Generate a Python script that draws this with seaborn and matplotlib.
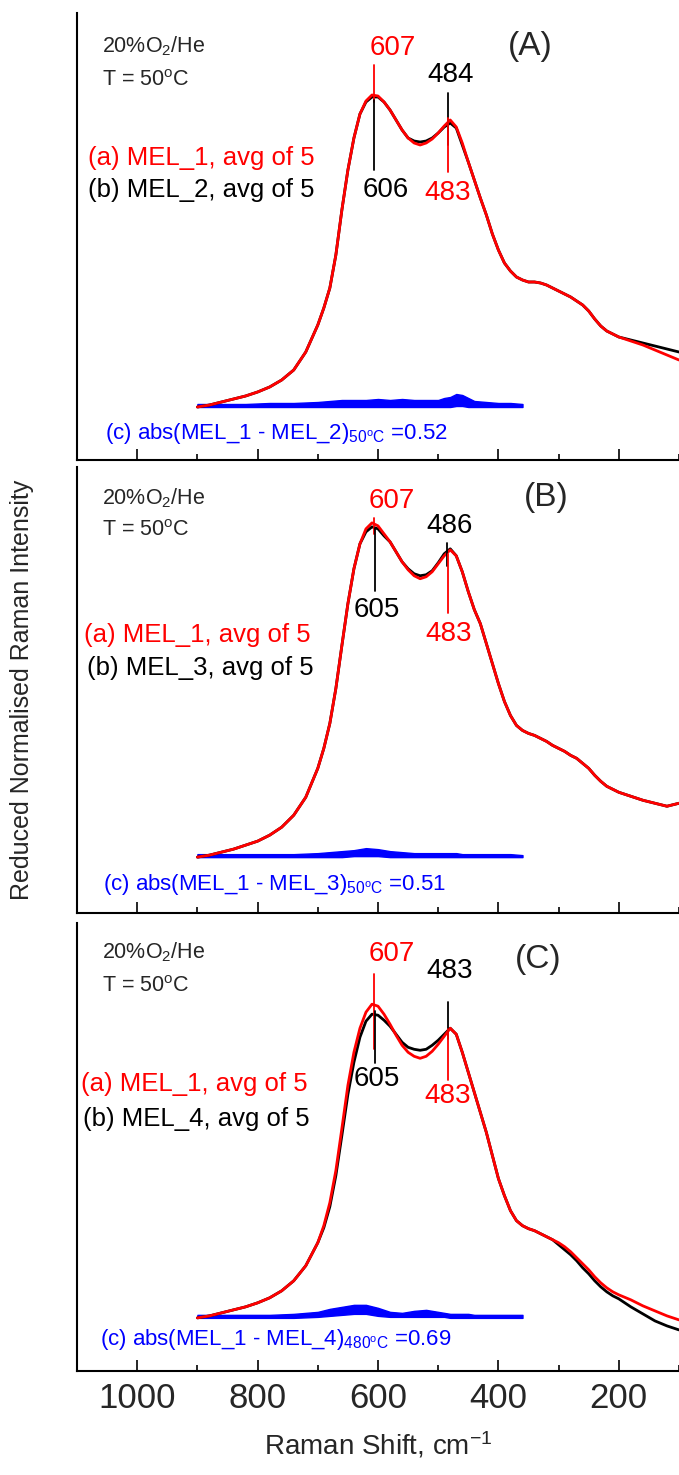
import matplotlib
matplotlib.use("Agg")
import matplotlib.pyplot as plt
import seaborn as sns

sns.set_style("white")
plt.rcParams["font.family"] = ["Liberation Sans", "DejaVu Sans"]
plt.rcParams["mathtext.fontset"] = "custom"
plt.rcParams["mathtext.rm"] = "Liberation Sans"
plt.rcParams["mathtext.it"] = "Liberation Sans:italic"
plt.rcParams["mathtext.bf"] = "Liberation Sans:bold"

# ---------------- data ----------------
wavenumber = [900, 880, 860, 840, 820, 800, 780, 760, 740, 720, 700,
              690, 680, 670, 660, 650, 640, 630, 620, 610, 600,
              590, 580, 570, 560, 550, 540, 530, 520, 510, 500,
              490, 480, 470, 460, 450, 440, 430, 420, 410, 400,
              390, 380, 370, 360, 350, 340, 330, 320, 310, 300,
              290, 280, 270, 260, 250, 240, 230, 220, 210, 200,
              180, 160, 140, 120, 100]

# (A) MEL_1 vs MEL_2
mel1_a = [0.53, 0.55, 0.58, 0.61, 0.64, 0.68, 0.73, 0.80, 0.90, 1.08, 1.35,
          1.52, 1.72, 2.05, 2.50, 2.90, 3.22, 3.46, 3.59, 3.65, 3.64,
          3.58, 3.50, 3.40, 3.30, 3.22, 3.17, 3.15, 3.17, 3.21, 3.27,
          3.34, 3.40, 3.33, 3.17, 2.98, 2.80, 2.62, 2.45, 2.26, 2.10,
          1.97, 1.89, 1.83, 1.80, 1.78, 1.78, 1.77, 1.75, 1.72, 1.69,
          1.66, 1.63, 1.59, 1.55, 1.49, 1.41, 1.34, 1.29, 1.26, 1.23,
          1.19, 1.15, 1.10, 1.05, 1.00]
mel2_a = [0.53, 0.55, 0.58, 0.61, 0.64, 0.68, 0.73, 0.80, 0.90, 1.08, 1.35,
          1.52, 1.72, 2.05, 2.50, 2.90, 3.22, 3.46, 3.58, 3.63, 3.63,
          3.58, 3.50, 3.40, 3.30, 3.22, 3.19, 3.18, 3.19, 3.22, 3.27,
          3.33, 3.37, 3.32, 3.15, 2.98, 2.80, 2.62, 2.45, 2.26, 2.10,
          1.97, 1.89, 1.83, 1.80, 1.78, 1.78, 1.77, 1.75, 1.72, 1.69,
          1.66, 1.63, 1.59, 1.55, 1.49, 1.41, 1.34, 1.29, 1.26, 1.23,
          1.20, 1.17, 1.14, 1.11, 1.08]

# (B) MEL_1 vs MEL_3
mel1_b = [0.56, 0.58, 0.61, 0.64, 0.68, 0.72, 0.78, 0.86, 0.98, 1.16, 1.45,
          1.65, 1.90, 2.25, 2.68, 3.10, 3.45, 3.70, 3.85, 3.91, 3.88,
          3.80, 3.72, 3.62, 3.52, 3.44, 3.38, 3.35, 3.37, 3.42, 3.50,
          3.58, 3.64, 3.58, 3.42, 3.22, 3.04, 2.90, 2.70, 2.50, 2.30,
          2.12, 1.98, 1.88, 1.83, 1.80, 1.78, 1.75, 1.72, 1.68, 1.65,
          1.62, 1.58, 1.55, 1.50, 1.45, 1.38, 1.32, 1.27, 1.24, 1.21,
          1.17, 1.13, 1.10, 1.07, 1.10]
mel3_b = [0.56, 0.58, 0.61, 0.64, 0.68, 0.72, 0.78, 0.86, 0.98, 1.16, 1.45,
          1.65, 1.90, 2.25, 2.68, 3.10, 3.45, 3.70, 3.82, 3.87, 3.85,
          3.78, 3.72, 3.62, 3.52, 3.45, 3.40, 3.38, 3.39, 3.43, 3.51,
          3.60, 3.65, 3.58, 3.42, 3.22, 3.04, 2.90, 2.70, 2.50, 2.30,
          2.12, 1.98, 1.88, 1.83, 1.80, 1.78, 1.75, 1.72, 1.68, 1.65,
          1.62, 1.58, 1.55, 1.50, 1.45, 1.38, 1.32, 1.27, 1.24, 1.21,
          1.17, 1.13, 1.10, 1.07, 1.10]

# (C) MEL_1 vs MEL_4
mel1_c = [0.53, 0.55, 0.58, 0.61, 0.64, 0.68, 0.73, 0.80, 0.90, 1.05, 1.28,
          1.45, 1.68, 2.00, 2.42, 2.85, 3.18, 3.42, 3.58, 3.66, 3.64,
          3.56, 3.46, 3.35, 3.25, 3.18, 3.14, 3.12, 3.14, 3.19, 3.26,
          3.34, 3.42, 3.36, 3.18, 2.98, 2.78, 2.58, 2.38, 2.15, 1.92,
          1.75, 1.60, 1.50, 1.45, 1.42, 1.40, 1.37, 1.34, 1.31, 1.28,
          1.24, 1.19, 1.13, 1.07, 1.01, 0.94, 0.88, 0.83, 0.79, 0.76,
          0.71, 0.65, 0.60, 0.55, 0.51]
mel4_c = [0.53, 0.55, 0.58, 0.61, 0.64, 0.68, 0.73, 0.80, 0.90, 1.05, 1.28,
          1.43, 1.64, 1.95, 2.35, 2.76, 3.08, 3.33, 3.49, 3.56, 3.55,
          3.50, 3.44, 3.36, 3.28, 3.23, 3.21, 3.20, 3.21, 3.25, 3.30,
          3.36, 3.42, 3.36, 3.18, 2.98, 2.78, 2.58, 2.38, 2.15, 1.92,
          1.75, 1.60, 1.50, 1.45, 1.42, 1.40, 1.37, 1.34, 1.31, 1.26,
          1.21, 1.16, 1.10, 1.03, 0.97, 0.90, 0.84, 0.79, 0.75, 0.72,
          0.64, 0.57, 0.50, 0.45, 0.41]

# absolute difference spectra (lower / upper edge of the noise band)
diff_wavenumber = [900, 860, 820, 780, 740, 700, 680, 660, 640, 620, 600,
                   580, 560, 540, 520, 500, 490, 480, 470, 460, 450,
                   440, 420, 400, 380, 360]
diff_a_low = [0.53, 0.53, 0.53, 0.53, 0.53, 0.53, 0.53, 0.53, 0.53, 0.53, 0.53,
              0.53, 0.53, 0.53, 0.53, 0.53, 0.53, 0.53, 0.54, 0.54, 0.53,
              0.53, 0.53, 0.53, 0.53, 0.53]
diff_a_high = [0.56, 0.56, 0.56, 0.57, 0.57, 0.58, 0.59, 0.60, 0.60, 0.60, 0.61,
               0.60, 0.61, 0.60, 0.60, 0.60, 0.62, 0.63, 0.66, 0.65, 0.62,
               0.59, 0.58, 0.57, 0.57, 0.56]
diff_b_low = [0.56, 0.56, 0.56, 0.56, 0.56, 0.56, 0.56, 0.56, 0.57, 0.57, 0.57,
              0.56, 0.56, 0.56, 0.56, 0.56, 0.56, 0.56, 0.56, 0.56, 0.56,
              0.56, 0.56, 0.56, 0.56, 0.56]
diff_b_high = [0.59, 0.59, 0.59, 0.59, 0.59, 0.60, 0.61, 0.62, 0.63, 0.65, 0.64,
               0.62, 0.61, 0.60, 0.60, 0.60, 0.60, 0.60, 0.60, 0.59, 0.59,
               0.59, 0.59, 0.59, 0.59, 0.58]
diff_c_low = [0.53, 0.53, 0.53, 0.53, 0.53, 0.54, 0.55, 0.56, 0.57, 0.57, 0.55,
              0.54, 0.54, 0.54, 0.54, 0.54, 0.54, 0.53, 0.53, 0.53, 0.53,
              0.53, 0.53, 0.53, 0.53, 0.53]
diff_c_high = [0.56, 0.56, 0.56, 0.56, 0.57, 0.59, 0.62, 0.64, 0.66, 0.66, 0.63,
               0.59, 0.58, 0.60, 0.61, 0.59, 0.58, 0.57, 0.57, 0.57, 0.57,
               0.56, 0.56, 0.56, 0.56, 0.56]

panel_tags = ["(A)", "(B)", "(C)"]
sample_names = ["MEL_2", "MEL_3", "MEL_4"]
diff_labels = [r"(c) abs(MEL_1 - MEL_2)$_{\mathrm{50^oC}}$ =0.52",
               r"(c) abs(MEL_1 - MEL_3)$_{\mathrm{50^oC}}$ =0.51",
               r"(c) abs(MEL_1 - MEL_4)$_{\mathrm{480^oC}}$ =0.69"]
# peak positions: (MEL_1 high-freq, other high-freq, other low-freq, MEL_1 low-freq)
peaks = [(607, 606, 484, 483), (607, 605, 486, 483), (607, 605, 483, 483)]

xticks_major = [1000, 800, 600, 400, 200]
xticks_minor = [900, 700, 500, 300, 100]

# ---------------- layout ----------------
W, H = 679, 1475
fig = plt.figure(figsize=(W / 100, H / 100), dpi=100)
ax_left = 77 / W
ax_w = 1.0 - ax_left
panel_px = [(13, 460), (467, 913), (923, 1371)]

RED = "#ff0000"
BLUE = "#0000ff"

ref_series = [mel1_a, mel1_b, mel1_c]
cmp_series = [mel2_a, mel3_b, mel4_c]
diff_low = [diff_a_low, diff_b_low, diff_c_low]
diff_high = [diff_a_high, diff_b_high, diff_c_high]

# per-panel text placement (x in cm-1, y in axis units) and marker-line extents
text_cfg = [
    dict(gas=(1058, 4.14), temp=(1058, 3.80), a=(1081, 3.02), b=(1081, 2.70),
         c=(1053, 0.27), tag=(347, 4.13),
         top_ref=(575, 4.12), top_cmp=(479, 3.85), bot_cmp=(587, 2.70), bot_ref=(484, 2.67),
         ref_hi=(3.95, 3.58), cmp_hi=(3.60, 2.90), cmp_lo=(3.67, 3.15), ref_lo=(3.42, 2.88)),
    dict(gas=(1058, 4.16), temp=(1058, 3.83), a=(1089, 2.79), b=(1083, 2.46),
         c=(1056, 0.29), tag=(321, 4.16),
         top_ref=(577, 4.13), top_cmp=(481, 3.88), bot_cmp=(602, 3.04), bot_ref=(483, 2.80),
         ref_hi=(3.96, 3.80), cmp_hi=(3.86, 3.23), cmp_lo=(3.71, 3.48), ref_lo=(3.60, 3.01)),
    dict(gas=(1058, 4.18), temp=(1058, 3.84), a=(1094, 2.86), b=(1090, 2.51),
         c=(1061, 0.31), tag=(334, 4.11),
         top_ref=(577, 4.16), top_cmp=(481, 3.99), bot_cmp=(602, 2.91), bot_ref=(484, 2.74),
         ref_hi=(3.96, 3.21), cmp_hi=(3.59, 3.07), cmp_lo=(3.68, 3.31), ref_lo=(3.41, 2.90)),
]

fs_cond = 15.5
fs_legend = 18.5
fs_peak = 20
for i, (top, bot) in enumerate(panel_px):
    ax = fig.add_axes([ax_left, 1 - bot / H, ax_w, (bot - top) / H])
    cfg = text_cfg[i]

    sns.lineplot(x=wavenumber, y=cmp_series[i], ax=ax, color="black", linewidth=2.0)
    sns.lineplot(x=wavenumber, y=ref_series[i], ax=ax, color=RED, linewidth=2.0)
    ax.fill_between(diff_wavenumber, diff_low[i], diff_high[i], color=BLUE, linewidth=1.0)

    p_ref_hi, p_cmp_hi, p_cmp_lo, p_ref_lo = peaks[i]
    ax.plot([p_ref_hi, p_ref_hi], cfg["ref_hi"], color=RED, lw=1.3)
    ax.plot([p_cmp_hi, p_cmp_hi], cfg["cmp_hi"], color="black", lw=1.3)
    ax.plot([p_cmp_lo, p_cmp_lo], cfg["cmp_lo"], color="black", lw=1.3)
    ax.plot([p_ref_lo, p_ref_lo], cfg["ref_lo"], color=RED, lw=1.3)

    ax.text(*cfg["top_ref"], str(p_ref_hi), color=RED, fontsize=fs_peak, ha="center", va="center")
    ax.text(*cfg["top_cmp"], str(p_cmp_lo), color="black", fontsize=fs_peak, ha="center", va="center")
    ax.text(*cfg["bot_cmp"], str(p_cmp_hi), color="black", fontsize=fs_peak, ha="center", va="center")
    ax.text(*cfg["bot_ref"], str(p_ref_lo), color=RED, fontsize=fs_peak, ha="center", va="center")

    ax.text(*cfg["gas"], r"20%O$_\mathrm{2}$/He", fontsize=fs_cond, ha="left", va="center")
    ax.text(*cfg["temp"], r"T = 50$^\mathrm{o}$C", fontsize=fs_cond, ha="left", va="center")
    ax.text(*cfg["a"], "(a) MEL_1, avg of 5", color=RED, fontsize=fs_legend, ha="left", va="center")
    ax.text(*cfg["b"], f"(b) {sample_names[i]}, avg of 5", color="black", fontsize=fs_legend,
            ha="left", va="center")
    ax.text(*cfg["c"], diff_labels[i], color=BLUE, fontsize=16, ha="left", va="center")
    ax.text(*cfg["tag"], panel_tags[i], fontsize=24, ha="center", va="center")

    ax.set_xlim(1100, 100)
    ax.set_ylim(0, 4.47)
    ax.set_yticks([])
    ax.set_xticks(xticks_major)
    ax.set_xticks(xticks_minor, minor=True)
    ax.tick_params(axis="x", which="major", direction="in", length=8, width=1.4,
                   labelsize=25, pad=8, bottom=True, labelbottom=(i == 2))
    ax.tick_params(axis="x", which="minor", direction="in", length=4.5, width=1.4, bottom=True)
    for s in ("top", "right"):
        ax.spines[s].set_visible(False)
    for s in ("left", "bottom"):
        ax.spines[s].set_color("black")
        ax.spines[s].set_linewidth(1.5)
    ax.set_xlabel("")
    ax.set_ylabel("")

fig.text(378 / W, 1 - 1445 / H, r"Raman Shift, cm$^\mathrm{-1}$", fontsize=20,
         ha="center", va="center")
fig.text(22 / W, 1 - 690 / H, "Reduced Normalised Raman Intensity", fontsize=18,
         rotation=90, ha="center", va="center")

fig.savefig("out.png", dpi=100)
